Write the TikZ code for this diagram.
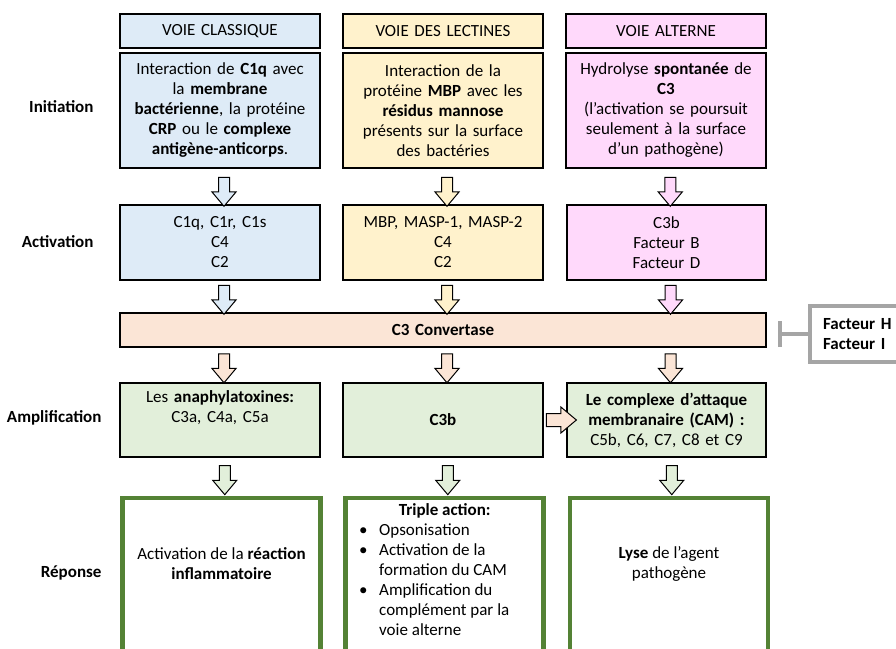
\documentclass[tikz,border=0pt]{standalone}
\usepackage{fontspec}
\setmainfont{Carlito}
\usetikzlibrary{arrows.meta,positioning,shapes.arrows,calc}
\definecolor{clblue}{HTML}{DEEBF7}
\definecolor{clyellow}{HTML}{FFF2CC}
\definecolor{clpink}{HTML}{FFD9FB}
\definecolor{clpeach}{HTML}{FBE5D6}
\definecolor{clgreen}{HTML}{E2EFDA}
\definecolor{cldkgreen}{HTML}{548235}
\definecolor{clgray}{HTML}{A5A5A5}
\newcommand{\itm}{\makebox[20pt][l]{\textbullet}}
\newcommand{\txtsize}{\fontsize{17}{20}\selectfont}

\begin{document}
\begin{tikzpicture}[x=1pt,y=-1pt,
  box/.style={draw,line width=2pt,minimum width=200pt,text width=194pt,align=center,inner sep=2pt,font=\txtsize},
  repbox/.style={draw=cldkgreen,line width=4.5pt,minimum width=198pt,minimum height=200pt},
  rtext/.style={align=center,inner sep=0pt,font=\txtsize},
  rowlab/.style={anchor=east,font=\txtsize\bfseries},
  darrow/.style={single arrow,draw,line width=1pt,shape border rotate=270,minimum height=29pt,
    single arrow head extend=6.5pt,single arrow head indent=0pt,single arrow tip angle=80,inner sep=5pt,xshift=4pt},
  inhib/.style={clgray,line width=4pt,-{Bar[width=26pt,line width=4pt]}}]
  \useasboundingbox (0,0) rectangle (896,648);
  \clip (0,0) rectangle (896,648);
  % Row labels
  \node[rowlab] (linit) at (97,107) {Initiation};
  \node[rowlab] (lact) at (97,242) {Activation};
  \node[rowlab] (lampl) at (105,418) {Amplification};
  \node[rowlab] (lrep) at (105,573) {Réponse};
  % Headers
  \node[box,fill=clblue,minimum height=34pt] (h1) at (220,31) {VOIE CLASSIQUE};
  \node[box,fill=clyellow,minimum height=34pt] (h2) at (443,31) {VOIE DES LECTINES};
  \node[box,fill=clpink,minimum height=34pt] (h3) at (666,31) {VOIE ALTERNE};
  % Initiation
  \node[box,fill=clblue,minimum height=115pt] (i1) at (220,110.5)
    {Interaction de \textbf{C1q} avec\\la \textbf{membrane}\\\textbf{bactérienne}, la protéine\\\textbf{CRP} ou le \textbf{complexe}\\\textbf{antigène-anticorps}.};
  \node[box,fill=clyellow,minimum height=115pt] (i2) at (443,110.5)
    {Interaction de la\\protéine \textbf{MBP} avec les\\\textbf{résidus mannose}\\présents sur la surface\\des bactéries};
  \node[box,fill=clpink,minimum height=115pt] (i3) at (666,110.5)
    {Hydrolyse \textbf{spontanée} de\\\textbf{C3}\\(l’activation se poursuit\\seulement à la surface\\d’un pathogène)};
  % Activation
  \node[box,fill=clblue,minimum height=75pt] (a1) at (220,242.5) {C1q, C1r, C1s\\C4\\C2};
  \node[box,fill=clyellow,minimum height=75pt] (a2) at (443,242.5) {MBP, MASP-1, MASP-2\\C4\\C2};
  \node[box,fill=clpink,minimum height=75pt,minimum width=199pt] (a3) at (666.5,242.5) {C3b\\Facteur B\\Facteur D};
  % C3 convertase
  \node[box,fill=clpeach,minimum width=646pt,text width=600pt,minimum height=34pt] (conv) at (443,330) {\textbf{C3 Convertase}};
  \node[draw=clgray,line width=4pt,anchor=west,align=left,text width=80pt,inner xsep=13pt,minimum height=56pt,font=\txtsize\bfseries] (fh) at (808,334)
    {Facteur H\\Facteur I};
  \coordinate (inh) at (778,334);
  \draw[inhib] (fh.west) -- (inh);
  % Amplification
  \node[box,fill=clgreen,minimum height=74pt] (m1) at (220,420) {Les \textbf{anaphylatoxines:}\\C3a, C4a, C5a\\\strut};
  \node[box,fill=clgreen,minimum height=74pt] (m2) at (443,420) {\textbf{C3b}};
  \node[box,fill=clgreen,minimum height=74pt,minimum width=199pt] (m3) at (666.5,420)
    {\textbf{Le complexe d’attaque}\\\textbf{membranaire (CAM) :}\\C5b, C6, C7, C8 et C9};
  % Reponse
  \node[repbox] (r1) at (221.5,598) {};
  \node[repbox] (r2) at (444.5,598) {};
  \node[repbox] (r3) at (669,598) {};
  \node[rtext] (r1t) at (221.5,564) {Activation de la \textbf{réaction}\\\textbf{inflammatoire}};
  \node[rtext] (r3t) at (669,564) {\textbf{Lyse} de l’agent\\pathogène};
  \node[rtext,align=left,anchor=north west] (r2t) at (359,503)
    {\makebox[171pt][c]{\textbf{Triple action:}}\\
     \itm Opsonisation\\
     \itm Activation de la\\
     \hspace*{20pt}formation du CAM\\
     \itm Amplification du\\
     \hspace*{20pt}complément par la\\
     \hspace*{20pt}voie alterne};
  % Block arrows
  \node[darrow,fill=clblue,yshift=-2pt] at ($(i1.south)!0.5!(a1.north)$) {};
  \node[darrow,fill=clyellow,yshift=-2pt] at ($(i2.south)!0.5!(a2.north)$) {};
  \node[darrow,fill=clpink,yshift=-2pt] at ($(i3.south)!0.5!(a3.north)$) {};
  \node[darrow,fill=clblue] at ($(a1.south)!0.5!(a1.south|-conv.north)$) {};
  \node[darrow,fill=clyellow] at ($(a2.south)!0.5!(a2.south|-conv.north)$) {};
  \node[darrow,fill=clpink] at ($(a3.south)!0.5!(a3.south|-conv.north)$) {};
  \node[darrow,fill=clpeach] at ($(m1.north|-conv.south)!0.5!(m1.north)$) {};
  \node[darrow,fill=clpeach] at ($(m2.north|-conv.south)!0.5!(m2.north)$) {};
  \node[darrow,fill=clpeach] at ($(m3.north|-conv.south)!0.5!(m3.north)$) {};
  \node[darrow,fill=clgreen] at ($(m1.south)!0.5!(r1.north)$) {};
  \node[darrow,fill=clgreen] at ($(m2.south)!0.5!(r2.north)$) {};
  \node[darrow,fill=clgreen] at ($(m3.south)!0.5!(r3.north)$) {};
  \node[darrow,fill=clpeach,shape border rotate=0,xshift=-1.5pt,minimum height=30pt,inner sep=6pt] at ($(m2.east)!0.5!(m3.west)$) {};
\end{tikzpicture}
\end{document}
